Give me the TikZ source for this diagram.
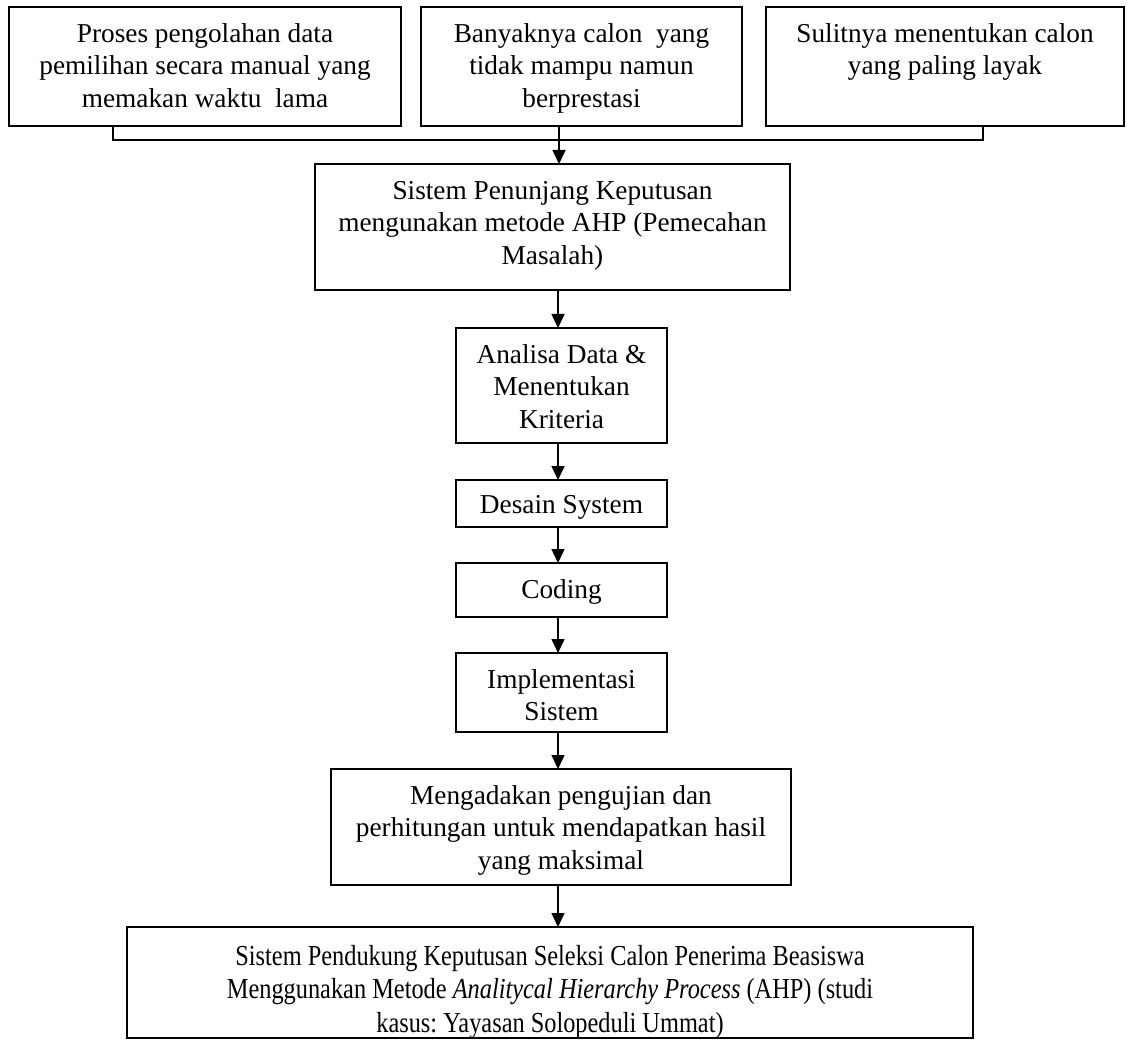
\documentclass[tikz,border=0pt]{standalone}
\usepackage{fontspec}
\setmainfont{Liberation Serif}
\newfontfamily\narrowserif[FakeStretch=0.84]{Liberation Serif}
\usetikzlibrary{arrows.meta}
\frenchspacing
\begin{document}
\begin{tikzpicture}[x=1pt,y=-1pt,
  box/.style={draw=black,line width=1.5pt,inner sep=0pt,outer sep=0pt,fill=white},
  txt/.style={anchor=north,inner sep=0pt,align=center,yshift=-15pt,
    font=\fontsize{27.3}{32.5}\selectfont},
  link/.style={line width=1.5pt},
  arr/.style={line width=1.5pt,-{Triangle[length=14pt,width=13pt]}}]
\useasboundingbox[fill=white] (0,0) rectangle (1127,1040);
% boxes
\node[box,minimum width=392pt,minimum height=119pt] (b1) at (205,66.5) {};
\node[box,minimum width=321pt,minimum height=119pt] (b2) at (581.5,66.5) {};
\node[box,minimum width=358pt,minimum height=119pt] (b3) at (945,66.5) {};
\node[box,minimum width=475pt,minimum height=126pt] (b4) at (552.5,227) {};
\node[box,minimum width=211pt,minimum height=115pt] (b5) at (561.5,385.5) {};
\node[box,minimum width=211pt,minimum height=47pt] (b6) at (561.5,503.5) {};
\node[box,minimum width=211pt,minimum height=54pt] (b7) at (561.5,590) {};
\node[box,minimum width=211pt,minimum height=79pt] (b8) at (561.5,692.5) {};
\node[box,minimum width=460pt,minimum height=116pt] (b9) at (561,827) {};
\node[box,minimum width=846pt,minimum height=111pt] (b10) at (550,982.5) {};
% texts
\node[txt] (t1) at (b1.north) {\rule{0pt}{20pt}Proses pengolahan data\\pemilihan secara manual yang\\memakan waktu\ \ lama};
\node[txt] (t2) at (b2.north) {\rule{0pt}{20pt}Banyaknya calon\ \ yang\\tidak mampu namun\\berprestasi};
\node[txt] (t3) at (b3.north) {\rule{0pt}{20pt}Sulitnya menentukan calon\\yang paling layak};
\node[txt] (t4) at (b4.north) {\rule{0pt}{20pt}Sistem Penunjang Keputusan\\mengunakan metode AHP (Pemecahan\\Masalah)};
\node[txt] (t5) at (b5.north) {\rule{0pt}{20pt}Analisa Data \&\\Menentukan\\Kriteria};
\node[txt,yshift=2pt] (t6) at (b6.north) {\rule{0pt}{20pt}Desain System};
\node[txt] (t7) at (b7.north) {\rule{0pt}{20pt}Coding};
\node[txt] (t8) at (b8.north) {\rule{0pt}{20pt}Implementasi\\Sistem};
\node[txt] (t9) at (b9.north) {\rule{0pt}{20pt}Mengadakan pengujian dan\\perhitungan untuk mendapatkan hasil\\yang maksimal};
\node[txt,yshift=-3pt,font=\narrowserif\fontsize{29}{33.5}\selectfont] (t10) at (b10.north) {\rule{0pt}{20pt}Sistem Pendukung Keputusan Seleksi Calon Penerima Beasiswa\\Menggunakan Metode \textit{Analitycal Hierarchy Process} (AHP) (studi\\kasus: Yayasan Solopeduli Ummat)};
% connector helpers
\coordinate (bl) at (113,140);
\coordinate (br) at (983,140);
\coordinate (ax) at (559,0);
\coordinate (cx) at (558,0);
% bracket joining the three problem boxes
\draw[link] (b1.south -| bl) -- (bl) -- (br) -- (b3.south -| br);
% arrows
\draw[arr] (b2.south -| ax) -- (b4.north -| ax);
\draw[arr] (b4.south -| cx) -- (b5.north -| cx);
\draw[arr] (b5.south -| cx) -- (b6.north -| cx);
\draw[arr] (b6.south -| cx) -- (b7.north -| cx);
\draw[arr] (b7.south -| cx) -- (b8.north -| cx);
\draw[arr] (b8.south -| cx) -- (b9.north -| cx);
\draw[arr] (b9.south -| cx) -- (b10.north -| cx);
\end{tikzpicture}
\end{document}
